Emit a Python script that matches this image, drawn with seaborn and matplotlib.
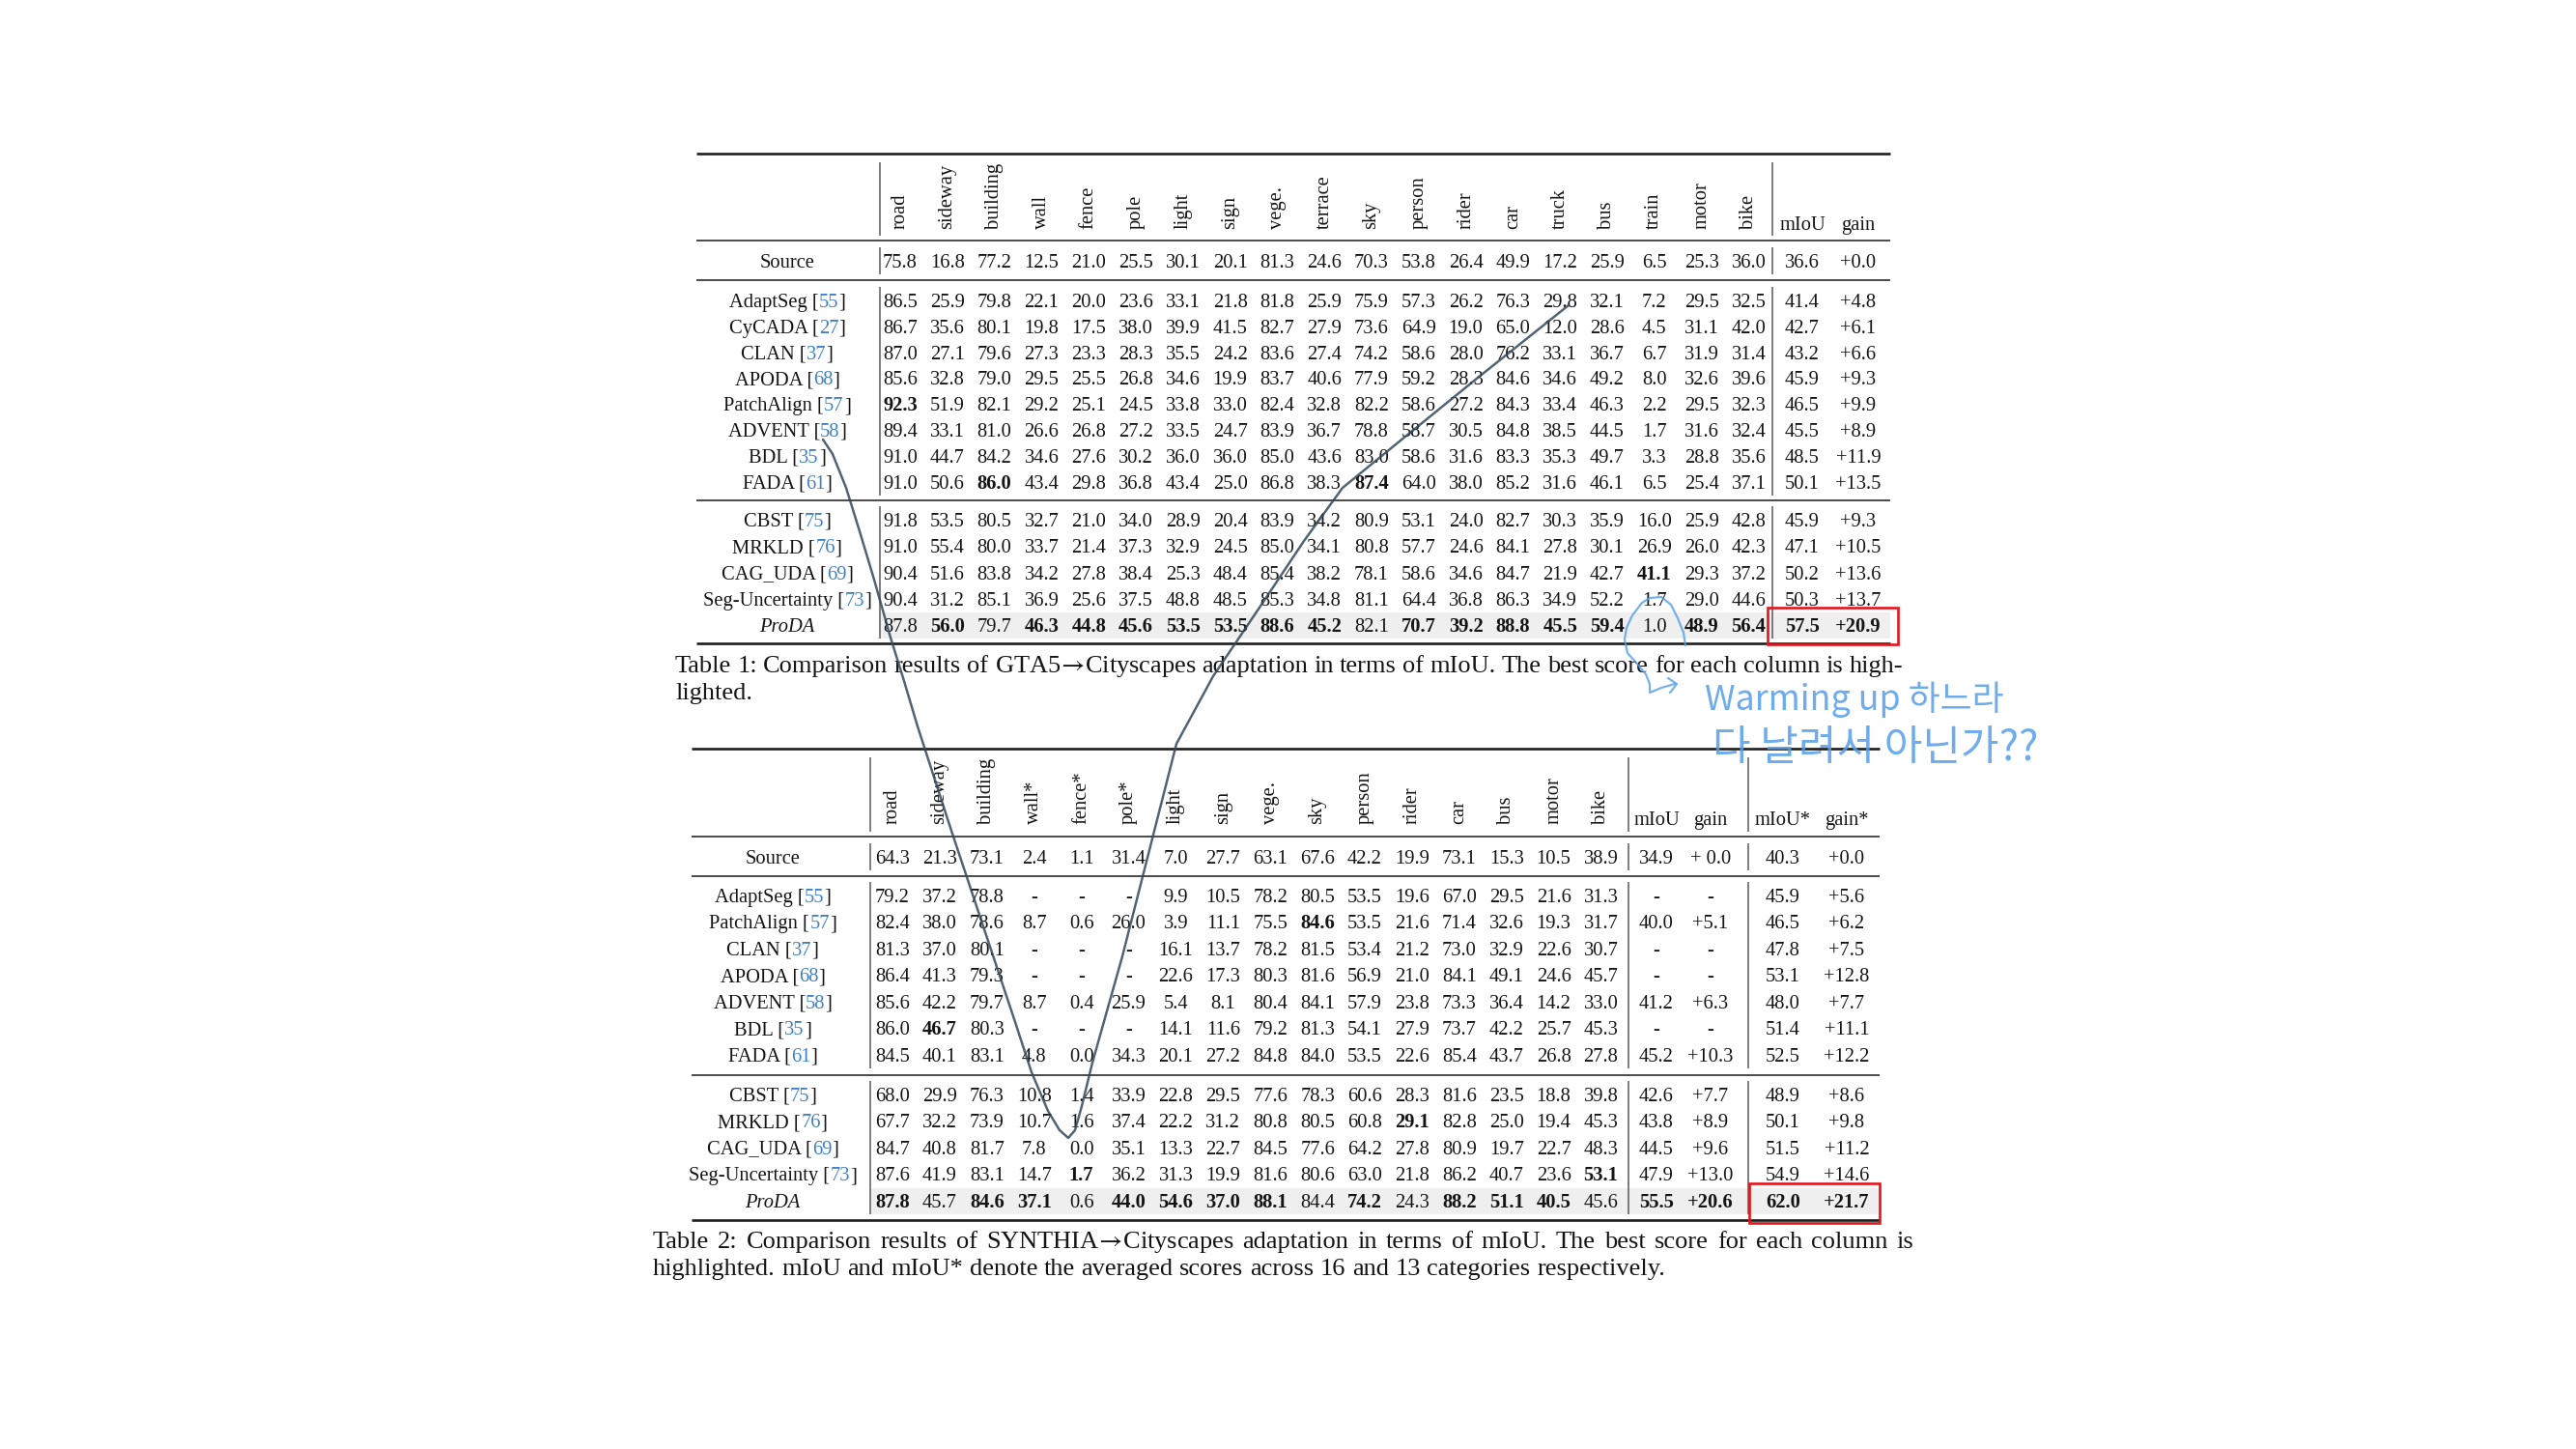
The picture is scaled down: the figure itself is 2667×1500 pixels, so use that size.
import matplotlib.pyplot as plt
import matplotlib.patches as mpatches
import numpy as np
import pandas as pd
import seaborn as sns

sns.set_theme(style='white')
plt.rcParams['font.family'] = ['Liberation Serif', 'DejaVu Serif']
plt.rcParams['mathtext.fontset'] = 'stix'

# ---------------- Table 1: GTA5 -> Cityscapes
T1_CLASSES = ['road', 'sideway', 'building', 'wall', 'fence', 'pole', 'light', 'sign',
              'vege.', 'terrace', 'sky', 'person', 'rider', 'car', 'truck', 'bus',
              'train', 'motor', 'bike']
T1_EXTRA = ['mIoU', 'gain']
T1_METHODS = ['Source', 'AdaptSeg', 'CyCADA', 'CLAN', 'APODA', 'PatchAlign', 'ADVENT',
              'BDL', 'FADA', 'CBST', 'MRKLD', 'CAG_UDA', 'Seg-Uncertainty', 'ProDA']
T1_REFS = ['', '55', '27', '37', '68', '57', '58', '35', '61', '75', '76', '69', '73', '']
T1_SCORES = [
    [75.8, 16.8, 77.2, 12.5, 21.0, 25.5, 30.1, 20.1, 81.3, 24.6, 70.3, 53.8, 26.4, 49.9, 17.2, 25.9, 6.5, 25.3, 36.0],
    [86.5, 25.9, 79.8, 22.1, 20.0, 23.6, 33.1, 21.8, 81.8, 25.9, 75.9, 57.3, 26.2, 76.3, 29.8, 32.1, 7.2, 29.5, 32.5],
    [86.7, 35.6, 80.1, 19.8, 17.5, 38.0, 39.9, 41.5, 82.7, 27.9, 73.6, 64.9, 19.0, 65.0, 12.0, 28.6, 4.5, 31.1, 42.0],
    [87.0, 27.1, 79.6, 27.3, 23.3, 28.3, 35.5, 24.2, 83.6, 27.4, 74.2, 58.6, 28.0, 76.2, 33.1, 36.7, 6.7, 31.9, 31.4],
    [85.6, 32.8, 79.0, 29.5, 25.5, 26.8, 34.6, 19.9, 83.7, 40.6, 77.9, 59.2, 28.3, 84.6, 34.6, 49.2, 8.0, 32.6, 39.6],
    [92.3, 51.9, 82.1, 29.2, 25.1, 24.5, 33.8, 33.0, 82.4, 32.8, 82.2, 58.6, 27.2, 84.3, 33.4, 46.3, 2.2, 29.5, 32.3],
    [89.4, 33.1, 81.0, 26.6, 26.8, 27.2, 33.5, 24.7, 83.9, 36.7, 78.8, 58.7, 30.5, 84.8, 38.5, 44.5, 1.7, 31.6, 32.4],
    [91.0, 44.7, 84.2, 34.6, 27.6, 30.2, 36.0, 36.0, 85.0, 43.6, 83.0, 58.6, 31.6, 83.3, 35.3, 49.7, 3.3, 28.8, 35.6],
    [91.0, 50.6, 86.0, 43.4, 29.8, 36.8, 43.4, 25.0, 86.8, 38.3, 87.4, 64.0, 38.0, 85.2, 31.6, 46.1, 6.5, 25.4, 37.1],
    [91.8, 53.5, 80.5, 32.7, 21.0, 34.0, 28.9, 20.4, 83.9, 34.2, 80.9, 53.1, 24.0, 82.7, 30.3, 35.9, 16.0, 25.9, 42.8],
    [91.0, 55.4, 80.0, 33.7, 21.4, 37.3, 32.9, 24.5, 85.0, 34.1, 80.8, 57.7, 24.6, 84.1, 27.8, 30.1, 26.9, 26.0, 42.3],
    [90.4, 51.6, 83.8, 34.2, 27.8, 38.4, 25.3, 48.4, 85.4, 38.2, 78.1, 58.6, 34.6, 84.7, 21.9, 42.7, 41.1, 29.3, 37.2],
    [90.4, 31.2, 85.1, 36.9, 25.6, 37.5, 48.8, 48.5, 85.3, 34.8, 81.1, 64.4, 36.8, 86.3, 34.9, 52.2, 1.7, 29.0, 44.6],
    [87.8, 56.0, 79.7, 46.3, 44.8, 45.6, 53.5, 53.5, 88.6, 45.2, 82.1, 70.7, 39.2, 88.8, 45.5, 59.4, 1.0, 48.9, 56.4],
]
T1_MIOU = [36.6, 41.4, 42.7, 43.2, 45.9, 46.5, 45.5, 48.5, 50.1, 45.9, 47.1, 50.2, 50.3, 57.5]
T1_GAIN = ['+0.0', '+4.8', '+6.1', '+6.6', '+9.3', '+9.9', '+8.9', '+11.9', '+13.5',
           '+9.3', '+10.5', '+13.6', '+13.7', '+20.9']
T1_BLOCKS = [1, 8, 5]
T1_BOLD = {
    'PatchAlign': ['road'],
    'FADA': ['building', 'sky'],
    'CAG_UDA': ['train'],
    'ProDA': ['sideway', 'wall', 'fence', 'pole', 'light', 'sign', 'vege.', 'terrace',
              'person', 'rider', 'car', 'truck', 'bus', 'motor', 'bike', 'mIoU', 'gain'],
}
T1_CAPTION = [r'Table 1: Comparison results of GTA5$\!\rightarrow\!$Cityscapes adaptation in terms of mIoU. '
              'The best score for each column is high-',
              'lighted.']

# ---------------- Table 2: SYNTHIA -> Cityscapes
T2_CLASSES = ['road', 'sideway', 'building', 'wall*', 'fence*', 'pole*', 'light', 'sign',
              'vege.', 'sky', 'person', 'rider', 'car', 'bus', 'motor', 'bike']
T2_EXTRA = ['mIoU', 'gain', 'mIoU*', 'gain*']
T2_METHODS = ['Source', 'AdaptSeg', 'PatchAlign', 'CLAN', 'APODA', 'ADVENT', 'BDL', 'FADA',
              'CBST', 'MRKLD', 'CAG_UDA', 'Seg-Uncertainty', 'ProDA']
T2_REFS = ['', '55', '57', '37', '68', '58', '35', '61', '75', '76', '69', '73', '']
T2_SCORES = [
    [64.3, 21.3, 73.1, 2.4, 1.1, 31.4, 7.0, 27.7, 63.1, 67.6, 42.2, 19.9, 73.1, 15.3, 10.5, 38.9],
    [79.2, 37.2, 78.8, None, None, None, 9.9, 10.5, 78.2, 80.5, 53.5, 19.6, 67.0, 29.5, 21.6, 31.3],
    [82.4, 38.0, 78.6, 8.7, 0.6, 26.0, 3.9, 11.1, 75.5, 84.6, 53.5, 21.6, 71.4, 32.6, 19.3, 31.7],
    [81.3, 37.0, 80.1, None, None, None, 16.1, 13.7, 78.2, 81.5, 53.4, 21.2, 73.0, 32.9, 22.6, 30.7],
    [86.4, 41.3, 79.3, None, None, None, 22.6, 17.3, 80.3, 81.6, 56.9, 21.0, 84.1, 49.1, 24.6, 45.7],
    [85.6, 42.2, 79.7, 8.7, 0.4, 25.9, 5.4, 8.1, 80.4, 84.1, 57.9, 23.8, 73.3, 36.4, 14.2, 33.0],
    [86.0, 46.7, 80.3, None, None, None, 14.1, 11.6, 79.2, 81.3, 54.1, 27.9, 73.7, 42.2, 25.7, 45.3],
    [84.5, 40.1, 83.1, 4.8, 0.0, 34.3, 20.1, 27.2, 84.8, 84.0, 53.5, 22.6, 85.4, 43.7, 26.8, 27.8],
    [68.0, 29.9, 76.3, 10.8, 1.4, 33.9, 22.8, 29.5, 77.6, 78.3, 60.6, 28.3, 81.6, 23.5, 18.8, 39.8],
    [67.7, 32.2, 73.9, 10.7, 1.6, 37.4, 22.2, 31.2, 80.8, 80.5, 60.8, 29.1, 82.8, 25.0, 19.4, 45.3],
    [84.7, 40.8, 81.7, 7.8, 0.0, 35.1, 13.3, 22.7, 84.5, 77.6, 64.2, 27.8, 80.9, 19.7, 22.7, 48.3],
    [87.6, 41.9, 83.1, 14.7, 1.7, 36.2, 31.3, 19.9, 81.6, 80.6, 63.0, 21.8, 86.2, 40.7, 23.6, 53.1],
    [87.8, 45.7, 84.6, 37.1, 0.6, 44.0, 54.6, 37.0, 88.1, 84.4, 74.2, 24.3, 88.2, 51.1, 40.5, 45.6],
]
T2_MIOU = [34.9, None, 40.0, None, None, 41.2, None, 45.2, 42.6, 43.8, 44.5, 47.9, 55.5]
T2_GAIN = ['+ 0.0', '-', '+5.1', '-', '-', '+6.3', '-', '+10.3', '+7.7', '+8.9', '+9.6', '+13.0', '+20.6']
T2_MIOU13 = [40.3, 45.9, 46.5, 47.8, 53.1, 48.0, 51.4, 52.5, 48.9, 50.1, 51.5, 54.9, 62.0]
T2_GAIN13 = ['+0.0', '+5.6', '+6.2', '+7.5', '+12.8', '+7.7', '+11.1', '+12.2', '+8.6',
             '+9.8', '+11.2', '+14.6', '+21.7']
T2_BLOCKS = [1, 7, 5]
T2_BOLD = {
    'PatchAlign': ['sky'],
    'BDL': ['sideway'],
    'MRKLD': ['rider'],
    'Seg-Uncertainty': ['fence*', 'bike'],
    'ProDA': ['road', 'building', 'wall*', 'pole*', 'light', 'sign', 'vege.', 'person',
              'car', 'bus', 'motor', 'mIoU', 'gain', 'mIoU*', 'gain*'],
}
T2_CAPTION = [r'Table 2: Comparison results of SYNTHIA$\!\rightarrow\!$Cityscapes adaptation in terms of mIoU. '
              'The best score for each column is',
              'highlighted. mIoU and mIoU* denote the averaged scores across 16 and 13 categories respectively.']

# handwritten notes
NOTE_LINES = ['Warming up 하느라', '다 날려서 아닌가??']

# ---------------- styling / layout (pixel space of the page)
TXT = '#141414'
REF = '#3f80c6'
PEN = '#34495c'
INK = '#559ee8'
BAND = '#efefef'
RED = '#e3161c'
FS = 14.8
CAP_FS = 19.0

LAY1 = dict(x_left=721, x_right=1957, name_x=815, col_x0=932, col_dx=48.8,
            extra_x=[1866, 1924], vlines=[911, 1835],
            rule_top=159, rule_head=249, rule_src=290, rule_mid=518, rule_bot=666,
            head_bottom=237, head_text=231,
            src_y=270, block_y=[311, 538], block_dy=[26.8, 27.3],
            cap_x=[699, 1970], cap_y=[696, 724], box=[1830, 629, 1965, 667])
LAY2 = dict(x_left=716, x_right=1946, name_x=800, col_x0=924, col_dx=48.9,
            extra_x=[1715, 1771, 1846, 1912], vlines=[901, 1686, 1810],
            rule_top=775, rule_head=866, rule_src=907, rule_mid=1113, rule_bot=1263,
            head_bottom=853, head_text=847,
            src_y=887, block_y=[927, 1133], block_dy=[27.5, 27.5],
            cap_x=[676, 1981], cap_y=[1292, 1320], box=[1811, 1225, 1946, 1266])

fig = plt.figure(figsize=(26.67, 15), dpi=100)
ax = fig.add_axes([0, 0, 1, 1])
ax.set_xlim(0, 2667)
ax.set_ylim(1500, 0)
ax.axis('off')
renderer = fig.canvas.get_renderer()


def em(fs):
    return fs * 100 / 72


def width_of(t):
    return t.get_window_extent(renderer).width


def rich(x, y, parts, fs, ha='center'):
    arts = [ax.text(0, y, s, color=c, fontsize=fs, fontstyle=st, va='baseline', ha='left')
            for s, c, st in parts]
    ws = [width_of(a) for a in arts]
    x0 = x - sum(ws) / 2 if ha == 'center' else x
    for a, w in zip(arts, ws):
        a.set_x(x0)
        x0 += w


def caption(line, x0, x1, y, fs, justify):
    words = line.split(' ')
    arts = [ax.text(0, y, w, color=TXT, fontsize=fs, va='baseline', ha='left') for w in words]
    ws = [width_of(a) for a in arts]
    gap = (x1 - x0 - sum(ws)) / (len(ws) - 1) if justify else em(fs) * 0.25
    x = x0
    for a, w in zip(arts, ws):
        a.set_x(x)
        x += w + gap


def draw_table(classes, extra, methods, refs, cells, bold, blocks, lay, caps):
    base = 0.34 * em(FS)
    col_x = [lay['col_x0'] + i * lay['col_dx'] for i in range(len(classes))] + lay['extra_x']
    heads = classes + extra

    # row positions from the blocks
    row_y = [lay['src_y']]
    for b, n in enumerate(blocks[1:]):
        row_y += [lay['block_y'][b] + k * lay['block_dy'][b] for k in range(n)]

    # shaded ProDA row
    ax.add_patch(mpatches.Rectangle((lay['vlines'][0], row_y[-1] - 13.5),
                                    lay['x_right'] - lay['vlines'][0], 27,
                                    facecolor=BAND, edgecolor='none', zorder=0))

    # header
    for x, h in zip(col_x[:len(classes)], classes):
        ax.text(x, lay['head_bottom'], h, rotation=90, ha='center', va='bottom',
                fontsize=FS, color=TXT)
    for x, h in zip(lay['extra_x'], extra):
        ax.text(x, lay['head_text'] + base, h, ha='center', va='baseline',
                fontsize=FS, color=TXT)

    # body
    for r, (m, ref) in enumerate(zip(methods, refs)):
        y = row_y[r] + base
        if ref:
            parts = [(m + ' [', TXT, 'normal'), (ref, REF, 'normal'), (']', TXT, 'normal')]
        else:
            parts = [(m, TXT, 'italic' if m == 'ProDA' else 'normal')]
        rich(lay['name_x'], y, parts, FS)
        for c, (x, h) in enumerate(zip(col_x, heads)):
            ax.text(x, y, cells[r][c], ha='center', va='baseline', fontsize=FS, color=TXT,
                    fontweight='bold' if h in bold.get(m, []) else 'normal')

    # horizontal rules
    xl, xr = lay['x_left'], lay['x_right']
    ax.hlines([lay['rule_top'], lay['rule_bot']], xl, xr, color='#1e1e1e', lw=1.9)
    ax.hlines([lay['rule_head'], lay['rule_src'], lay['rule_mid']], xl, xr, color='#3c3c3c', lw=1.3)

    # vertical rules, broken at every horizontal rule
    spans = [(lay['rule_top'] + 9, lay['rule_head'] - 5)]
    start = 0
    for n in blocks:
        spans.append((row_y[start] - 14, row_y[start + n - 1] + 14))
        start += n
    for x in lay['vlines']:
        for y0, y1 in spans:
            ax.vlines(x, y0, y1, color='#5a5a5a', lw=1.1)

    # caption
    for i, line in enumerate(caps):
        caption(line, lay['cap_x'][0], lay['cap_x'][1], lay['cap_y'][i], CAP_FS,
                justify=(i < len(caps) - 1))

    # red highlight box
    bx0, by0, bx1, by1 = lay['box']
    ax.add_patch(mpatches.Rectangle((bx0, by0), bx1 - bx0, by1 - by0, fill=False,
                                    edgecolor=RED, lw=1.9, zorder=6))


def fmt(v):
    return '-' if v is None else f'{v:.1f}'


cells1 = [[fmt(v) for v in row] + [fmt(mi), g]
          for row, mi, g in zip(T1_SCORES, T1_MIOU, T1_GAIN)]
cells2 = [[fmt(v) for v in row] + [fmt(mi), g, fmt(mi13), g13]
          for row, mi, g, mi13, g13 in zip(T2_SCORES, T2_MIOU, T2_GAIN, T2_MIOU13, T2_GAIN13)]

draw_table(T1_CLASSES, T1_EXTRA, T1_METHODS, T1_REFS, cells1, T1_BOLD, T1_BLOCKS, LAY1, T1_CAPTION)
draw_table(T2_CLASSES, T2_EXTRA, T2_METHODS, T2_REFS, cells2, T2_BOLD, T2_BLOCKS, LAY2, T2_CAPTION)

# ---------------- pen annotations (traced from the page)
pen_stroke = pd.DataFrame({
    'x': [852, 862, 876, 890, 905, 922, 936, 950, 985, 1020, 1050, 1068, 1085, 1097, 1106,
          1113, 1120, 1131, 1162, 1190, 1218, 1256, 1310, 1350, 1390, 1450, 1530, 1624],
    'y': [455, 470, 505, 550, 600, 660, 705, 752, 860, 965, 1055, 1110, 1150, 1170, 1178,
          1170, 1145, 1100, 990, 880, 770, 700, 620, 560, 505, 456, 391, 316],
})
loop_stroke = pd.DataFrame({
    'x': [1745, 1743, 1737, 1730, 1720, 1708, 1700, 1690, 1684, 1682, 1685, 1694, 1704,
          1708, 1708, 1720, 1734],
    'y': [668, 655, 640, 626, 618, 619, 624, 637, 650, 662, 676, 686, 698, 708, 717, 712, 708],
})
arrow_head = pd.DataFrame({'x': [1727, 1736, 1729], 'y': [702, 708, 717]})

sns.lineplot(data=pen_stroke, x='x', y='y', sort=False, estimator=None, ax=ax,
             color=PEN, lw=1.8, alpha=0.85, zorder=5)
sns.lineplot(data=loop_stroke, x='x', y='y', sort=False, estimator=None, ax=ax,
             color=INK, lw=1.6, alpha=0.8, zorder=5)
sns.lineplot(data=arrow_head, x='x', y='y', sort=False, estimator=None, ax=ax,
             color=INK, lw=1.6, alpha=0.8, zorder=5)

note_x = [1765, 1773]
note_y = [735, 787]
note_w = [310, 337]
for line, x, y, w in zip(NOTE_LINES, note_x, note_y, note_w):
    t = ax.text(x, y, line, fontsize=24, color=INK, family=['Noto Sans CJK KR', 'DejaVu Sans'],
                fontweight='light', va='baseline', ha='left', alpha=0.85, zorder=5)
    t.set_fontsize(24 * w / width_of(t))

ax.set_xlim(0, 2667)
ax.set_ylim(1500, 0)
ax.axis('off')
fig.savefig('out.png', dpi=100, facecolor='white')
